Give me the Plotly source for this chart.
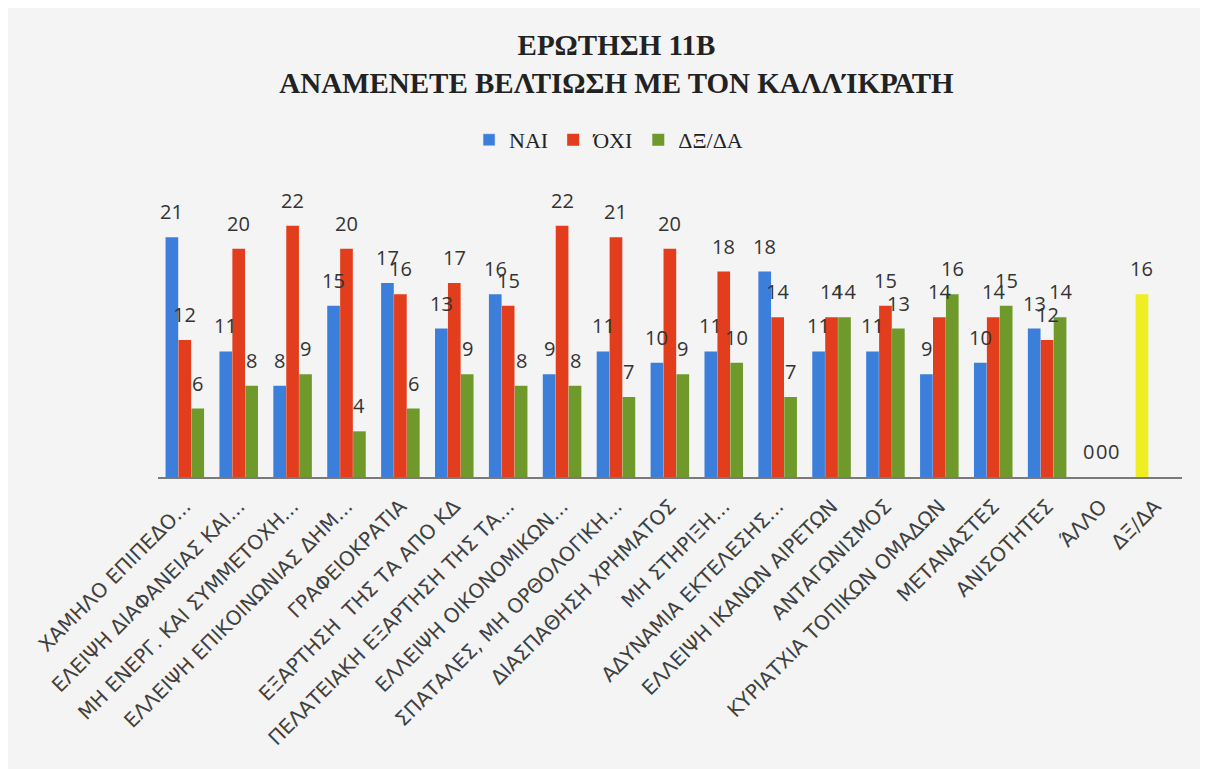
import plotly.graph_objects as go

categories = [
    "ΧΑΜΗΛΟ ΕΠΙΠΕΔΟ...",
    "ΕΛΕΙΨΗ ΔΙΑΦΑΝΕΙΑΣ ΚΑΙ...",
    "ΜΗ ΕΝΕΡΓ. ΚΑΙ ΣΥΜΜΕΤΟΧΗ...",
    "ΕΛΛΕΙΨΗ ΕΠΙΚΟΙΝΩΝΙΑΣ ΔΗΜ...",
    "ΓΡΑΦΕΙΟΚΡΑΤΙΑ",
    "ΕΞΑΡΤΗΣΗ  ΤΗΣ ΤΑ ΑΠΟ ΚΔ",
    "ΠΕΛΑΤΕΙΑΚΗ ΕΞΑΡΤΗΣΗ ΤΗΣ ΤΑ...",
    "ΕΛΛΕΙΨΗ ΟΙΚΟΝΟΜΙΚΩΝ...",
    "ΣΠΑΤΑΛΕΣ, ΜΗ ΟΡΘΟΛΟΓΙΚΗ...",
    "ΔΙΑΣΠΑΘΗΣΗ ΧΡΗΜΑΤΟΣ",
    "ΜΗ ΣΤΗΡΙΞΗ...",
    "ΑΔΥΝΑΜΙΑ ΕΚΤΕΛΕΣΗΣ...",
    "ΕΛΛΕΙΨΗ ΙΚΑΝΩΝ ΑΙΡΕΤΩΝ",
    "ΑΝΤΑΓΩΝΙΣΜΟΣ",
    "ΚΥΡΙΑΤΧΙΑ ΤΟΠΙΚΩΝ ΟΜΑΔΩΝ",
    "ΜΕΤΑΝΑΣΤΕΣ",
    "ΑΝΙΣΟΤΗΤΕΣ",
    "ΆΛΛΟ",
    "ΔΞ/ΔΑ",
]

nai = [21, 11, 8, 15, 17, 13, 16, 9, 11, 10, 11, 18, 11, 11, 9, 10, 13, 0, 16]
oxi = [12, 20, 22, 20, 16, 17, 15, 22, 21, 20, 18, 14, 14, 15, 14, 14, 12, 0, None]
dxda = [6, 8, 9, 4, 6, 9, 8, 8, 7, 9, 10, 7, 14, 13, 16, 15, 14, 0, None]

series_names = ["ΝΑΙ", "ΌΧΙ", "ΔΞ/ΔΑ"]
series_colors = ["#3b7fdb", "#e23d1c", "#6f9a2b"]
yellow = "#eeee22"

n = len(categories)
xs = list(range(n))
bar_w = 0.235
offsets = [-0.36, -0.12, 0.12]

fig = go.Figure()
annotations = []
nai_colors = [series_colors[0]] * (n - 1) + [yellow]
for name, vals, col, off in zip(series_names, [nai, oxi, dxda],
                                [nai_colors, series_colors[1], series_colors[2]], offsets):
    fig.add_trace(go.Bar(
        x=xs, y=vals, name=name, width=bar_w, offset=off,
        marker=dict(color=col, line=dict(width=0)),
        hoverinfo="x+y+name",
    ))
    for xi, v in zip(xs, vals):
        if v is None:
            continue
        annotations.append(dict(
            x=xi + off + bar_w / 2, y=v, xref="x", yref="y",
            text=str(v), showarrow=False, yanchor="bottom", xanchor="center",
            yshift=10,
            font=dict(family="Open Sans, sans-serif", size=20, color="#333333"),
        ))

# keep legend swatch for ΝΑΙ blue
fig.data[0].update(showlegend=False)
fig.add_trace(go.Bar(x=[None], y=[None], name="ΝΑΙ", marker=dict(color=series_colors[0]),
                     legendrank=1))
fig.data[1].update(legendrank=2)
fig.data[2].update(legendrank=3)

fig.update_layout(
    width=1200, height=761,
    paper_bgcolor="#f3f4f3", plot_bgcolor="#f3f4f3",
    margin=dict(l=150, r=26, t=195, b=292),
    barmode="overlay",
    title=dict(
        text="ΕΡΩΤΗΣΗ 11Β<br>ΑΝΑΜΕΝΕΤΕ ΒΕΛΤΙΩΣΗ ΜΕ ΤΟΝ ΚΑΛΛΊΚΡΑΤΗ",
        x=0.507, xanchor="center", y=0.938, yanchor="top",
        font=dict(family="Liberation Serif, serif", size=29, color="#222222", weight="bold"),
    ),
    legend=dict(
        orientation="h", x=0.44, xanchor="center", y=1.23, yanchor="middle",
        font=dict(family="Liberation Serif", size=22, color="#222222"),
        bgcolor="rgba(0,0,0,0)", itemwidth=30,
    ),
    annotations=annotations,
    showlegend=True,
)
fig.update_xaxes(
    range=[-0.5, n - 0.5], tickmode="array", tickvals=xs, ticktext=categories,
    tickangle=-45, showgrid=False, showline=True, linecolor="#7a7a7a", linewidth=1.5,
    ticks="", automargin=False, ticklabelstandoff=8,
    tickfont=dict(family="DejaVu Sans, sans-serif", size=20, color="#404040"),
)
fig.update_yaxes(range=[0, 24], visible=False, showgrid=False, zeroline=False)

fig.write_html("out.html")
